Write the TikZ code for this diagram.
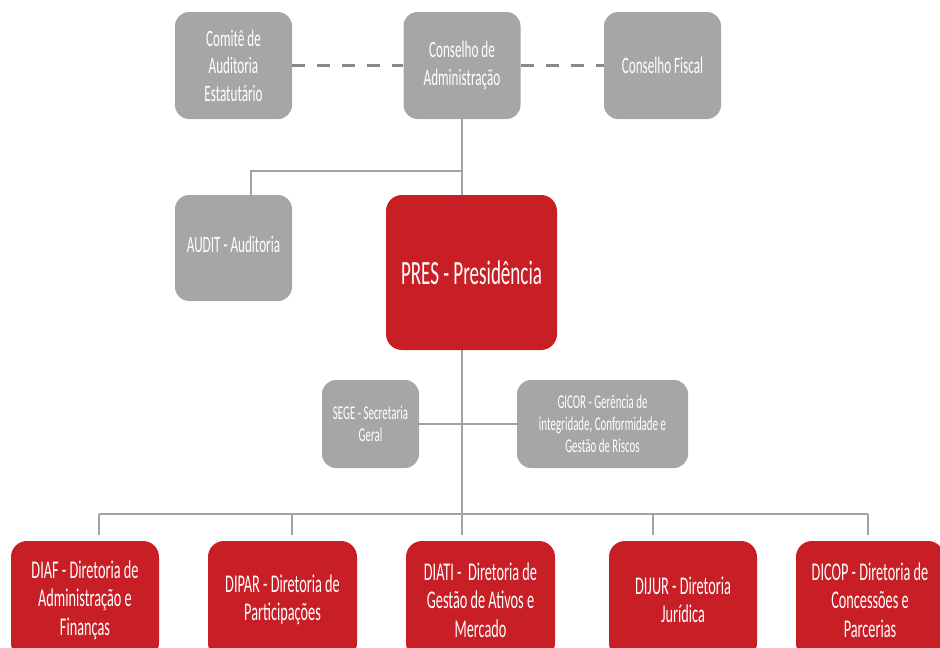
\documentclass[tikz,border=0pt]{standalone}
\usepackage{fontspec}
\setmainfont{Carlito}[FakeStretch=0.56]
\usetikzlibrary{backgrounds}

\definecolor{boxred}{RGB}{200,30,38}
\definecolor{boxgray}{RGB}{166,166,168}
\definecolor{linegray}{RGB}{163,163,165}
\definecolor{dashgray}{RGB}{138,138,140}

\begin{document}
\begin{tikzpicture}[x=1pt, y=-1pt,
	graybox/.style={fill=boxgray, rounded corners=14pt, text=white, align=center, inner sep=0pt},
	redbox/.style={fill=boxred, rounded corners=16pt, text=white, align=center, inner sep=0pt},
	topfont/.style={font=\fontsize{23.5}{27.5}\selectfont},
	midfont/.style={font=\fontsize{19.5}{22}\selectfont},
	dirfont/.style={font=\fontsize{25.5}{28.5}\selectfont},
	link/.style={draw=linegray, line width=1.4pt},
	dashlink/.style={draw=dashgray, line width=2.2pt, dash pattern=on 13pt off 12pt}]

	% Frame
	\useasboundingbox (0,0) rectangle (940,648);
	\clip (0,0) rectangle (940,648);

	% Councils
	\node[graybox, topfont, minimum width=117pt, minimum height=107pt] (comite) at (233.5,65.5) {Comitê de\\Auditoria\\Estatutário};
	\node[graybox, topfont, minimum width=117pt, minimum height=107pt] (conselho) at (462,65.5) {Conselho de\\Administração};
	\node[graybox, topfont, minimum width=117pt, minimum height=107pt] (fiscal) at (662.5,65.5) {Conselho Fiscal};

	% Audit and presidency
	\node[graybox, topfont, minimum width=117pt, minimum height=106pt] (audit) at (233.5,248) {\raisebox{7pt}{AUDIT - Auditoria}};
	\node[redbox, font=\fontsize{34}{38}\selectfont, minimum width=171pt, minimum height=155pt] (pres) at (471.5,272.5) {PRES - Presidência};

	% Staff units
	\node[graybox, midfont, minimum width=97pt, minimum height=88pt] (sege) at (370.5,424) {SEGE - Secretaria\\Geral};
	\node[graybox, midfont, minimum width=171pt, minimum height=88pt] (gicor) at (602.5,424) {GICOR - Gerência de\\integridade, Conformidade e\\Gestão de Riscos};

	% Directorates
	\node[redbox, dirfont, minimum width=148pt, minimum height=118pt] (diaf) at (85,600) {DIAF - Diretoria de\\Administração e\\Finanças};
	\node[redbox, dirfont, minimum width=149pt, minimum height=118pt] (dipar) at (282.5,600) {DIPAR - Diretoria de\\Participações};
	\node[redbox, dirfont, minimum width=149pt, minimum height=118pt] (diati) at (480.5,600) {DIATI -~ Diretoria de\\Gestão de Ativos e\\Mercado};
	\node[redbox, dirfont, minimum width=148pt, minimum height=118pt] (dijur) at (683,600) {DIJUR - Diretoria\\Jurídica};
	\node[redbox, dirfont, minimum width=148pt, minimum height=118pt] (dicop) at (870,600) {DICOP - Diretoria de\\Concessões e\\Parcerias};

	% Bus and drop points
	\coordinate (busl) at (99,514);
	\coordinate (busr) at (868,514);
	\coordinate (auditbend) at (251,171);
	\foreach \x/\n in {99/diaf, 292/dipar, 462/diati, 653/dijur, 868/dicop}
		\coordinate (drop-\n) at (\x,535);

	% Connectors
	\begin{scope}[on background layer]
		\draw[dashlink] (comite) -- (conselho);
		\draw[dashlink] (conselho) -- (fiscal);
		\draw[link] (conselho.south) -- (conselho.south |- busl);
		\draw[link] (audit.north -| auditbend) -- (auditbend) -- (auditbend -| conselho.south);
		\draw[link] (sege) -- (gicor);
		\draw[link] (busl) -- (busr);
		\foreach \n in {diaf, dipar, diati, dijur, dicop}
			\draw[link] (drop-\n) -- (drop-\n |- busl);
	\end{scope}
\end{tikzpicture}
\end{document}
